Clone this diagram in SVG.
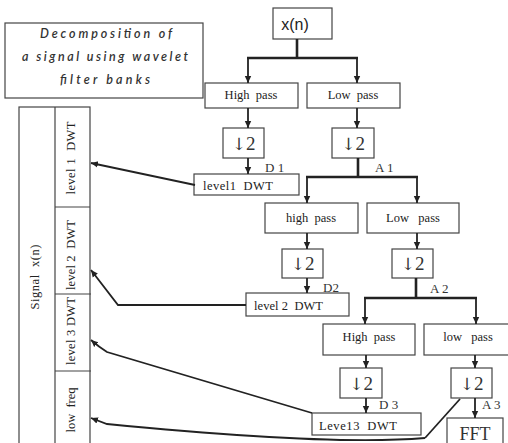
<svg xmlns="http://www.w3.org/2000/svg" width="508" height="443" viewBox="0 0 508 443">
<defs>
<marker id="ah" markerUnits="userSpaceOnUse" markerWidth="8" markerHeight="8" refX="7" refY="4" orient="auto">
<path d="M0,0.8 L7,4 L0,7.2 z" fill="#222"/>
</marker>
<style>
.box{fill:#fff;stroke:#444;stroke-width:1.2}
.t{font-family:"Liberation Serif",serif;font-size:12.5px;fill:#222}
.ds{font-family:"Liberation Serif",serif;font-size:19px;fill:#333}
.ar{font-family:"DejaVu Serif",serif;font-size:17px}
.lbl{font-family:"Liberation Serif",serif;font-size:13px;fill:#333}
.ti{font-family:Lato,"Open Sans",sans-serif;font-style:italic;font-weight:600;font-size:12.5px;fill:#333}
.ln{fill:none;stroke:#222;stroke-width:1.8}
.th{fill:none;stroke:#222;stroke-width:2.6}
</style>
</defs>
<rect width="508" height="443" fill="#fff"/>

<g id="title">
<rect class="box" x="5" y="23" width="198" height="75"/>
<text class="ti" x="40" y="38" textLength="132" lengthAdjust="spacing">Decomposition of</text>
<text class="ti" x="22" y="61" textLength="166" lengthAdjust="spacing">a signal using wavelet</text>
<text class="ti" x="60" y="84" textLength="90" lengthAdjust="spacing">filter banks</text>
</g>

<g id="signal-panel">
<rect class="box" x="19" y="107" width="71" height="345"/>
<line x1="55" y1="107" x2="55" y2="443" stroke="#444" stroke-width="1.2"/>
<line x1="55" y1="207" x2="90" y2="207" stroke="#444" stroke-width="1.2"/>
<line x1="55" y1="294" x2="91" y2="294" stroke="#444" stroke-width="1.2"/>
<line x1="55" y1="371" x2="91" y2="371" stroke="#444" stroke-width="1.2"/>
<text class="t" font-size="13" x="39" y="277" text-anchor="middle" transform="rotate(-90 39 277)" textLength="65" lengthAdjust="spacing">Signal&#160;&#160;x(n)</text>
<text class="t" x="75" y="158" text-anchor="middle" transform="rotate(-90 75 158)" textLength="73" lengthAdjust="spacing">level 1&#160;&#160;DWT</text>
<text class="t" x="75" y="255" text-anchor="middle" transform="rotate(-90 75 255)" textLength="70" lengthAdjust="spacing">level 2&#160;&#160;DWT</text>
<text class="t" x="75" y="331" text-anchor="middle" transform="rotate(-90 75 331)" textLength="68" lengthAdjust="spacing">level 3 DWT</text>
<text class="t" x="75" y="410" text-anchor="middle" transform="rotate(-90 75 410)" textLength="45" lengthAdjust="spacing">low&#160;&#160;freq</text>
</g>

<g id="xn">
<rect class="box" x="273" y="8" width="59" height="31"/>
<text x="295" y="30" text-anchor="middle" font-family="Liberation Sans,Arial,sans-serif" font-size="16" fill="#222">x(n)</text>
</g>

<g id="hp1"><rect class="box" x="205" y="83" width="93" height="25"/><text class="t" x="251" y="99" text-anchor="middle">High&#160;&#160;pass</text></g>
<g id="lp1"><rect class="box" x="307" y="83" width="93" height="25"/><text class="t" x="353" y="99" text-anchor="middle">Low&#160;&#160;pass</text></g>
<g id="ds1a"><rect class="box" x="223" y="128" width="41" height="30"/><text class="ds" x="243.5" y="150" text-anchor="middle"><tspan class="ar">↓</tspan>2</text></g>
<g id="ds1b"><rect class="box" x="332" y="128" width="42" height="30"/><text class="ds" x="353" y="150" text-anchor="middle"><tspan class="ar">↓</tspan>2</text></g>
<g id="lvl1"><rect class="box" x="194" y="174" width="105" height="21"/><text class="t" x="203" y="190" textLength="70" lengthAdjust="spacing">level1&#160;&#160;DWT</text></g>

<g id="hp2"><rect class="box" x="265" y="203" width="93" height="30"/><text class="t" x="311" y="222" text-anchor="middle">high&#160;&#160;pass</text></g>
<g id="lp2"><rect class="box" x="367" y="203" width="92" height="30"/><text class="t" x="413" y="222" text-anchor="middle">Low&#160;&#160;&#160;pass</text></g>
<g id="ds2a"><rect class="box" x="282" y="249" width="41" height="29"/><text class="ds" x="302.5" y="270" text-anchor="middle"><tspan class="ar">↓</tspan>2</text></g>
<g id="ds2b"><rect class="box" x="392" y="249" width="41" height="29"/><text class="ds" x="412.5" y="270" text-anchor="middle"><tspan class="ar">↓</tspan>2</text></g>
<g id="lvl2"><rect class="box" x="246" y="293" width="103" height="23"/><text class="t" x="254" y="310" textLength="69" lengthAdjust="spacing">level 2&#160;&#160;DWT</text></g>

<g id="hp3"><rect class="box" x="323" y="324" width="92" height="31"/><text class="t" x="369" y="341" text-anchor="middle">High&#160;&#160;pass</text></g>
<g id="lp3"><rect class="box" x="424" y="324" width="90" height="31"/><text class="t" x="468" y="341" text-anchor="middle">low&#160;&#160;&#160;pass</text></g>
<g id="ds3a"><rect class="box" x="340" y="368" width="42" height="30"/><text class="ds" x="361" y="390" text-anchor="middle"><tspan class="ar">↓</tspan>2</text></g>
<g id="ds3b"><rect class="box" x="451" y="368" width="41" height="30"/><text class="ds" x="471.5" y="390" text-anchor="middle"><tspan class="ar">↓</tspan>2</text></g>
<g id="lvl3"><rect class="box" x="312" y="413" width="109" height="22"/><text class="t" x="319" y="430" textLength="78" lengthAdjust="spacing">Leve13&#160;&#160;DWT</text></g>
<g id="fft"><rect class="box" x="447" y="418" width="56" height="35"/><text x="475" y="440" text-anchor="middle" font-family="Liberation Serif,serif" font-size="18" fill="#333">FFT</text></g>

<g id="labels">
<text class="lbl" x="265" y="172">D 1</text>
<text class="lbl" x="375" y="172">A 1</text>
<text class="lbl" x="323" y="292">D2</text>
<text class="lbl" x="430" y="293">A 2</text>
<text class="lbl" x="379" y="409">D 3</text>
<text class="lbl" x="482" y="409">A 3</text>
</g>

<g id="connectors">
<line class="th" x1="297" y1="39" x2="297" y2="58"/>
<line class="th" x1="247" y1="58" x2="358" y2="58"/>
<line class="ln" x1="248" y1="58" x2="248" y2="83" marker-end="url(#ah)"/>
<line class="ln" x1="357" y1="58" x2="357" y2="83" marker-end="url(#ah)"/>
<line class="ln" x1="248" y1="108" x2="248" y2="128" marker-end="url(#ah)"/>
<line class="ln" x1="357" y1="108" x2="357" y2="128" marker-end="url(#ah)"/>
<line class="ln" x1="248" y1="158" x2="248" y2="174" marker-end="url(#ah)"/>
<line class="th" x1="358" y1="158" x2="358" y2="177"/>
<line class="th" x1="306" y1="177" x2="418" y2="177"/>
<line class="ln" x1="307" y1="177" x2="307" y2="203" marker-end="url(#ah)"/>
<line class="ln" x1="417" y1="177" x2="417" y2="203" marker-end="url(#ah)"/>
<line class="ln" x1="307" y1="233" x2="307" y2="249" marker-end="url(#ah)"/>
<line class="ln" x1="417" y1="233" x2="417" y2="249" marker-end="url(#ah)"/>
<line class="ln" x1="307" y1="278" x2="307" y2="293" marker-end="url(#ah)"/>
<line class="th" x1="416" y1="278" x2="416" y2="298"/>
<line class="th" x1="364" y1="298" x2="477" y2="298"/>
<line class="ln" x1="365" y1="298" x2="365" y2="324" marker-end="url(#ah)"/>
<line class="ln" x1="476" y1="298" x2="476" y2="324" marker-end="url(#ah)"/>
<line class="ln" x1="366" y1="355" x2="366" y2="368" marker-end="url(#ah)"/>
<line class="ln" x1="475" y1="355" x2="475" y2="368" marker-end="url(#ah)"/>
<line class="ln" x1="366" y1="398" x2="366" y2="413" marker-end="url(#ah)"/>
<line class="ln" x1="475" y1="398" x2="475" y2="418" marker-end="url(#ah)"/>
<path class="ln" d="M195,185 L91,163" marker-end="url(#ah)"/>
<path class="ln" d="M246,305 L118,305 L91,270" marker-end="url(#ah)"/>
<path class="ln" d="M312,413 L107,352 Q99,347 91,340" marker-end="url(#ah)"/>
<path class="ln" stroke-width="1.4" d="M460,399 L425,438"/>
<path class="ln" d="M425,438 Q330,446 107,424 Q99,421 91,418" marker-end="url(#ah)"/>
</g>
</svg>
